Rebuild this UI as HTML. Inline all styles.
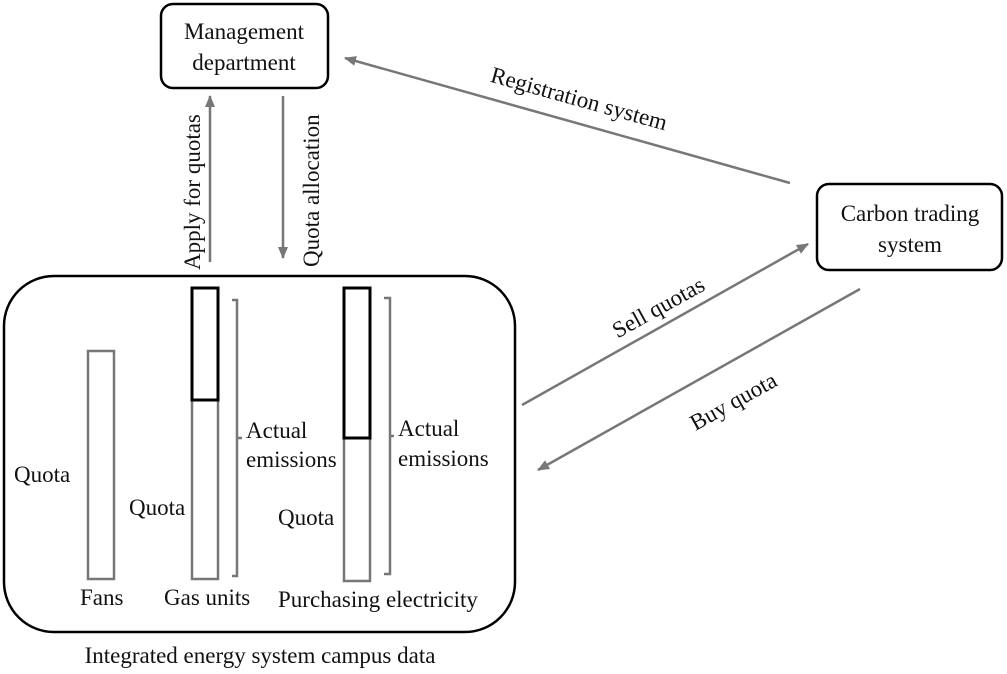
<!DOCTYPE html>
<html><head><style>
body{margin:0;background:#fff;}
svg text{font-family:"Liberation Serif",serif;font-size:23px;fill:#111;}
</style></head><body>
<svg width="1007" height="669" viewBox="0 0 1007 669">
<defs><marker id="a" markerWidth="12" markerHeight="10" refX="11" refY="5" orient="auto" markerUnits="userSpaceOnUse"><path d="M0,0 L12,5 L0,10 Z" fill="#777"/></marker></defs>
<rect x="161" y="4" width="167" height="84" rx="12" fill="none" stroke="#000" stroke-width="2.5"/>
<text x="244" y="39" text-anchor="middle">Management</text>
<text x="244" y="70" text-anchor="middle">department</text>
<rect x="817" y="184" width="185" height="86" rx="12" fill="none" stroke="#000" stroke-width="2.5"/>
<text x="910" y="221" text-anchor="middle">Carbon trading</text>
<text x="910" y="252" text-anchor="middle">system</text>
<rect x="4" y="276" width="511" height="356" rx="50" fill="none" stroke="#000" stroke-width="2.5"/>
<text x="260" y="663" text-anchor="middle">Integrated energy system campus data</text>
<g stroke="#777" stroke-width="2.5" fill="none">
<line x1="210" y1="262" x2="210" y2="96" marker-end="url(#a)"/>
<line x1="283" y1="96" x2="283" y2="258" marker-end="url(#a)"/>
<line x1="790" y1="183" x2="345" y2="58" marker-end="url(#a)"/>
<line x1="522" y1="405" x2="808" y2="244" marker-end="url(#a)"/>
<line x1="860" y1="289" x2="538" y2="470" marker-end="url(#a)"/>
<rect x="88" y="351" width="26" height="228"/>
<rect x="192" y="400" width="26" height="179"/>
<rect x="344" y="438" width="26" height="143"/>
<path d="M232,300 H237 V576 H232 M237,438 H242"/>
<path d="M384,298 H390 V574 H384 M390,436 H394"/>
</g>
<rect x="192" y="288" width="26" height="112" fill="none" stroke="#000" stroke-width="3"/>
<rect x="344" y="288" width="26" height="150" fill="none" stroke="#000" stroke-width="3"/>
<text x="200" y="270" transform="rotate(-90 200 270)">Apply for quotas</text>
<text x="319" y="267" transform="rotate(-90 319 267)">Quota allocation</text>
<text transform="translate(577,106) rotate(15.6)" text-anchor="middle">Registration system</text>
<text transform="translate(662,314) rotate(-29)" text-anchor="middle">Sell quotas</text>
<text transform="translate(737,408) rotate(-29)" text-anchor="middle">Buy quota</text>
<text x="14" y="482">Quota</text>
<text x="129" y="515">Quota</text>
<text x="278" y="525">Quota</text>
<text x="246" y="438">Actual</text>
<text x="246" y="467">emissions</text>
<text x="398" y="436">Actual</text>
<text x="398" y="466">emissions</text>
<text x="80" y="605">Fans</text>
<text x="164" y="605">Gas units</text>
<text x="278" y="607">Purchasing electricity</text>
</svg>
</body></html>
